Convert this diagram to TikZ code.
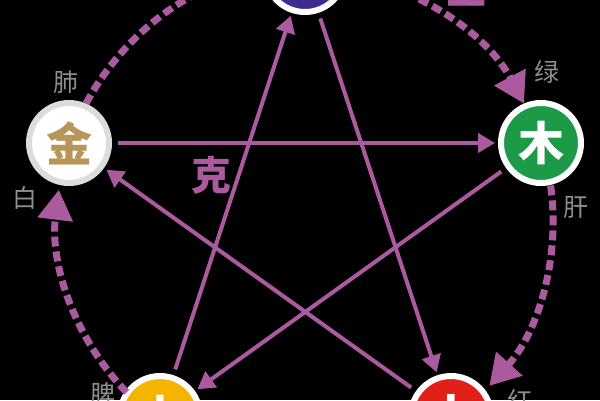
\documentclass[tikz,border=0pt]{standalone}
\usepackage{fontspec}
\newfontfamily\cjk{Noto Sans CJK SC}
\usetikzlibrary{arrows.meta}
\definecolor{pinkline}{HTML}{AC5A9F}
\definecolor{labelgray}{HTML}{8E8E8E}
\definecolor{waterc}{HTML}{3D2B8E}
\definecolor{woodc}{HTML}{1C9A48}
\definecolor{earthc}{HTML}{F4B400}
\definecolor{firec}{HTML}{E1201A}
\definecolor{metaltext}{HTML}{B8965A}
\definecolor{metalring}{HTML}{DCDCDC}
\begin{document}
\begin{tikzpicture}[x=1pt,y=1pt,
  elem/.style={circle, minimum size=80pt, inner sep=0pt, line width=6pt, draw=white,
    text=white, font=\cjk\bfseries\fontsize{46}{46}\selectfont},
  organ/.style={text=labelgray, inner sep=0pt, font=\cjk\fontsize{25}{25}\selectfont},
  cyclelabel/.style={text=pinkline, inner sep=0pt, font=\cjk\bfseries\fontsize{40}{40}\selectfont},
  sheng/.style={draw=pinkline, line width=7pt, dash pattern=on 10pt off 5pt,
    -{Triangle[length=30pt,width=34pt]}},
  ke/.style={draw=pinkline, line width=4pt, -{Triangle[length=17pt,width=19pt]},
    shorten <=6pt, shorten >=3pt}]
\useasboundingbox (0,0) rectangle (600,-400);
\fill[black] (0,0) rectangle (600,-400);
\clip (0,0) rectangle (600,-400);

\coordinate (c) at (305,-220);

% element nodes
\node[elem, fill=waterc] (water) at (305,28) {};
\node[elem, fill=woodc] (wood) at (541,-143) {木};
\node[elem, fill=firec] (fire) at (451,-416) {火};
\node[elem, fill=earthc] (earth) at (160,-416) {土};
\node[elem, fill=white, draw=metalring, text=metaltext] (metal) at (69,-143) {金};

% generating cycle (dashed arcs on the outer circle)
\draw[sheng] ([shift={(80:248)}]c) arc[start angle=80, end angle=28, radius=248];
\draw[sheng] ([shift={(8:248)}]c) arc[start angle=8, end angle=-42, radius=248];
\draw[sheng] ([shift={(-64:248)}]c) arc[start angle=-64, end angle=-116, radius=248];
\draw[sheng] ([shift={(-136:248)}]c) arc[start angle=-136, end angle=-187, radius=248];
\draw[sheng] ([shift={(152:248)}]c) arc[start angle=152, end angle=100, radius=248];

% controlling cycle (star)
\draw[ke] (water) -- (fire);
\draw[ke] (fire) -- (metal);
\draw[ke] (metal) -- (wood);
\draw[ke] (wood) -- (earth);
\draw[ke] (earth) -- (water);

% labels
\node[organ] (fei) at (66,-82) {肺};
\node[organ] (bai) at (25,-198) {白};
\node[organ] (lv) at (547,-72) {绿};
\node[organ] (gan) at (576,-207) {肝};
\node[organ] (pi) at (103,-394) {脾};
\node[organ] (hong) at (520,-400) {红};
\node[cyclelabel] (ke) at (211,-175) {克};
\node[cyclelabel] (sheng) at (466,12) {生};
\end{tikzpicture}
\end{document}
